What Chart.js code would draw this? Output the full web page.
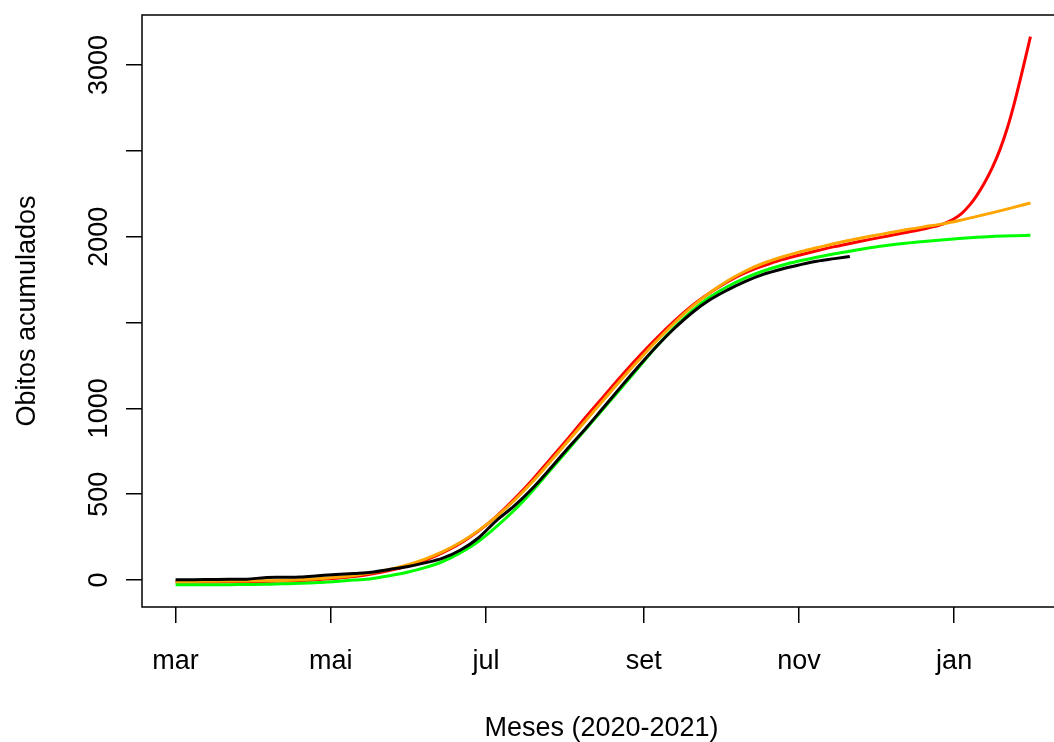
<!DOCTYPE html>
<html>
<head>
<meta charset="utf-8">
<script src="https://cdn.jsdelivr.net/npm/chart.js@4"></script>
<style>
  html, body { margin: 0; padding: 0; background: #fff; overflow: hidden; }
  #wrap { width: 1054px; height: 742px; overflow: hidden; }
</style>
</head>
<body>
<div id="wrap">
  <canvas id="chart" width="1080" height="742"></canvas>
</div>
<script>
// Axis ticks (days since 2020-03-01)
const monthTicks = [0, 61, 122, 184, 245, 306];
const monthLabels = ["mar", "mai", "jul", "set", "nov", "jan"];
const yTicks = [0, 500, 1000, 1500, 2000, 2500, 3000];
const yTickLabels = ["0", "500", "1000", "", "2000", "", "3000"];

// Observed (black)
const obsDays = [0, 7, 14, 21, 28, 35, 42, 49, 56, 63, 70, 77, 84, 91, 98, 105, 112, 119, 126, 133, 140, 147, 154, 161, 168, 175, 182, 189, 196, 203, 210, 217, 224, 231, 238, 245, 252, 259, 265];
const obsValues = [2, 2, 3, 4, 5, 14, 16, 18, 25, 32, 38, 45, 62, 78, 100, 128, 175, 245, 345, 430, 530, 645, 765, 880, 1002, 1125, 1245, 1360, 1465, 1557, 1632, 1690, 1740, 1780, 1810, 1835, 1857, 1872, 1885];

// Model curves
const modelDays = [0, 7, 14, 21, 28, 35, 42, 49, 56, 63, 70, 77, 84, 91, 98, 105, 112, 119, 126, 133, 140, 147, 154, 161, 168, 175, 182, 189, 196, 203, 210, 217, 224, 231, 238, 245, 252, 259, 266, 273, 280, 287, 294, 301, 308, 315, 322, 329, 336];
const greenValues = [-28, -28, -28, -27, -26, -25, -22, -19, -15, -8, 0, 8, 25, 45, 72, 108, 160, 225, 310, 405, 515, 635, 755, 875, 995, 1115, 1238, 1360, 1470, 1568, 1648, 1710, 1760, 1800, 1832, 1858, 1880, 1900, 1918, 1935, 1950, 1962, 1972, 1981, 1989, 1996, 2002, 2006, 2008];
const orangeValues = [-8, -8, -7, -6, -5, -4, -2, 2, 8, 16, 27, 42, 62, 88, 122, 165, 220, 288, 368, 462, 568, 685, 805, 925, 1045, 1165, 1280, 1392, 1497, 1592, 1673, 1743, 1800, 1845, 1880, 1910, 1935, 1960, 1982, 2002, 2021, 2040, 2057, 2073, 2094, 2118, 2143, 2169, 2196];

const redDays = [0, 7, 14, 21, 28, 35, 42, 49, 56, 63, 70, 77, 84, 91, 98, 105, 112, 119, 126, 133, 140, 147, 154, 161, 168, 175, 182, 189, 196, 203, 210, 217, 224, 231, 238, 245, 252, 259, 266, 273, 280, 287, 294, 300, 303, 306, 309, 312, 315, 318, 321, 324, 327, 330, 333, 336];
const redValues = [-12, -12, -11, -10, -9, -8, -6, -3, 2, 10, 20, 35, 55, 82, 115, 160, 215, 285, 370, 470, 580, 700, 820, 945, 1065, 1185, 1300, 1408, 1508, 1598, 1673, 1738, 1790, 1830, 1865, 1892, 1918, 1942, 1963, 1984, 2004, 2024, 2045, 2066, 2082, 2104, 2136, 2182, 2242, 2315, 2402, 2507, 2637, 2797, 2977, 3165];

const toPoints = (xs, ys) => xs.map((x, i) => ({ x: x, y: ys[i] }));

const FONT = { family: "'Liberation Sans', Arial, sans-serif", size: 27 };

// Draws the full box around the plot region
const boxPlugin = {
  id: "box",
  afterDraw(chart) {
    const { ctx, chartArea: a } = chart;
    ctx.save();
    ctx.strokeStyle = "#000";
    ctx.lineWidth = 1.5;
    ctx.strokeRect(a.left, a.top, a.right - a.left, a.bottom - a.top);
    ctx.restore();
  },
};

const line = (label, data, color, order) => ({
  label: label,
  data: data,
  borderColor: color,
  backgroundColor: color,
  borderWidth: 3,
  pointRadius: 0,
  cubicInterpolationMode: "monotone",
  fill: false,
  order: order,
});

new Chart(document.getElementById("chart"), {
  type: "line",
  data: {
    datasets: [
      line("Observado", toPoints(obsDays, obsValues), "#000000", 0),
      line("Modelo 3", toPoints(modelDays, greenValues), "#00ff00", 1),
      line("Modelo 2", toPoints(modelDays, orangeValues), "#ffa500", 2),
      line("Modelo 1", toPoints(redDays, redValues), "#ff0000", 3),
    ],
  },
  options: {
    responsive: false,
    animation: false,
    layout: { padding: { top: 15, right: 19, left: 0, bottom: 0 } },
    plugins: { legend: { display: false }, tooltip: { enabled: false } },
    scales: {
      x: {
        type: "linear",
        min: -13.2,
        max: 348,
        afterBuildTicks: (s) => { s.ticks = monthTicks.map((v) => ({ value: v })); },
        afterFit: (s) => { s.height = 135; },
        border: { display: false },
        grid: { drawOnChartArea: false, drawTicks: true, tickLength: 16, color: "#000", lineWidth: 1.5 },
        ticks: {
          autoSkip: false,
          maxRotation: 0,
          color: "#000",
          font: FONT,
          padding: 22,
          callback: (v, i) => monthLabels[i],
        },
        title: { display: true, text: "Meses (2020-2021)", color: "#000", font: FONT, padding: { top: 0, bottom: -3 } },
      },
      y: {
        type: "linear",
        min: -157,
        max: 3291,
        afterBuildTicks: (s) => { s.ticks = yTicks.map((v) => ({ value: v })); },
        afterFit: (s) => { s.width = 142; },
        border: { display: false },
        grid: { drawOnChartArea: false, drawTicks: true, tickLength: 16, color: "#000", lineWidth: 1.5 },
        ticks: {
          autoSkip: false,
          minRotation: 90,
          maxRotation: 90,
          crossAlign: "center",
          color: "#000",
          font: FONT,
          padding: -4,
          callback: (v, i) => yTickLabels[i],
        },
        title: { display: true, text: "Obitos acumulados", color: "#000", font: FONT, padding: { top: 11, bottom: 0 } },
      },
    },
  },
  plugins: [boxPlugin],
});
</script>
</body>
</html>
